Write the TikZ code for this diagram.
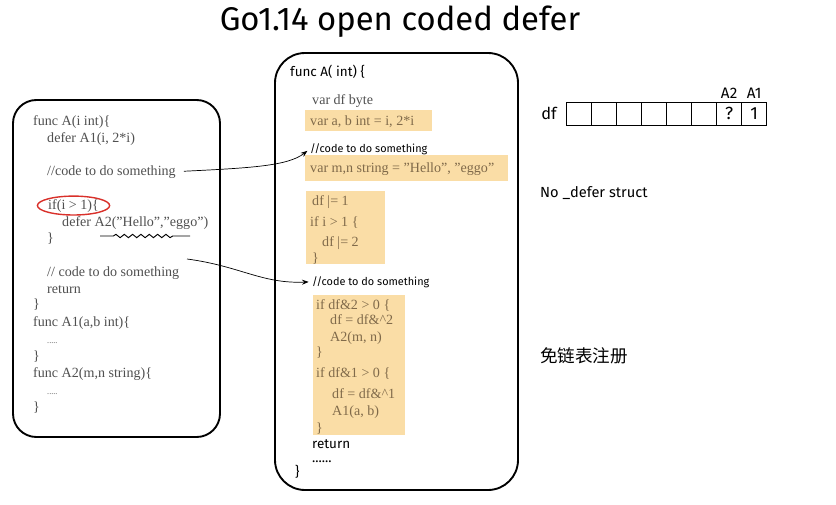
\documentclass[tikz,border=0pt]{standalone}
\usepackage{fontspec}
\setmainfont{Liberation Serif}
\newfontfamily\handfont{Fira Sans}
\newfontfamily\cjkfont{Noto Sans CJK SC}
\usetikzlibrary{arrows.meta,positioning,fit,shapes.geometric,decorations.pathmorphing}
\definecolor{codegray}{HTML}{505050}
\definecolor{hlfill}{HTML}{FADDA6}
\definecolor{hltext}{HTML}{806A4A}
\definecolor{ringred}{HTML}{D9302A}

\begin{document}
\begin{tikzpicture}[
  x=0.03cm, y=-0.03cm,
  >=Stealth,
  code/.style={anchor=base west,inner sep=0pt,text=codegray,font=\fontsize{12}{14}\selectfont},
  hlcode/.style={code,text=hltext},
  hand/.style={anchor=base west,inner sep=0pt,font=\handfont\fontsize{11.5}{13}\selectfont},
  note/.style={hand,font=\handfont\fontsize{9.3}{10}\selectfont},
  panel/.style={draw,line width=1.6pt,rounded corners=0.7cm},
  hl/.style={fill=hlfill},
  ring/.style={draw=ringred,ellipse,line width=1.2pt,inner sep=0pt},
  wavy/.style={line width=0.8pt,decorate,decoration={snake,amplitude=0.05cm,segment length=0.25cm,pre length=0.4cm,post length=0.5cm}},
  cell/.style={draw,line width=0.6pt,minimum width=0.753cm,minimum height=0.69cm,inner sep=0pt,font=\handfont\fontsize{15}{15}\selectfont},
  bitname/.style={hand,font=\handfont\fontsize{13}{13}\selectfont},
  link/.style={->,line width=0.6pt,shorten >=0.1cm}
]
\useasboundingbox[fill=white] (0,0) rectangle (836,505);
\node[font=\handfont\fontsize{28}{28}\selectfont] (title) at (400,22) {Go1.14 open coded defer};

% source
\draw[panel] (13,100) rectangle (220,437);
\node[code] (la1) at (33,125) {func A(i int)\{};
\node[code] (la2) at (47,142) {defer A1(i, 2*i)};
\node[code] (la3) at (47,175) {//code to do something};
\node[code] (la4) at (48,209) {if(i > 1)\{};
\node[code] (la5) at (62,226) {defer A2("Hello","eggo")};
\node[code] (la6) at (47,242) {\}};
\node[code] (la7) at (47,276) {// code to do something};
\node[code] (la8) at (47,293) {return};
\node[code] (la9) at (33,308) {\}};
\node[code] (la10) at (33,326) {func A1(a,b int)\{};
\node[code,font=\fontsize{7}{8}\selectfont] (la11) at (47,343) {.....};
\node[code] (la12) at (33,360) {\}};
\node[code] (la13) at (33,377) {func A2(m,n string)\{};
\node[code,font=\fontsize{7}{8}\selectfont] (la14) at (47,394) {.....};
\node[code] (la15) at (33,411) {\}};
\node[ring,fit=(la4)] (ifring) {};
\draw[wavy] (100,236) -- (190,236);

% compiled
\draw[panel,rounded corners=0.9cm] (275,53) rectangle (518,490);
\fill[hl] (305,110) rectangle (432,131);
\fill[hl] (305,155) rectangle (508,181);
\fill[hl] (306,191) rectangle (385,264);
\fill[hl] (313,295) rectangle (405,435);
\node[hand] (ma) at (290,76) {func A( int) \{};
\node[code] (mb) at (312,104) {var df byte};
\node[hlcode] (mc) at (310,125) {var a, b int = i, 2*i};
\node[note] (mcom1) at (310,152) {//code to do something};
\node[hlcode] (md) at (310,172) {var m,n string = "Hello", "eggo"};
\node[hlcode] (me1) at (312,205) {df |= 1};
\node[hlcode] (me2) at (310,226) {if i > 1 \{};
\node[hlcode] (me3) at (322,246) {df |= 2};
\node[hlcode] (me4) at (312,262) {\}};
\node[note] (mcom2) at (312,285) {//code to do something};
\node[hlcode] (mf1) at (316,309) {if df\&2 > 0 \{};
\node[hlcode] (mf2) at (330,324) {df = df\&\textasciicircum 2};
\node[hlcode] (mf3) at (330,341) {A2(m, n)};
\node[hlcode] (mf4) at (316,356) {\}};
\node[hlcode] (mf5) at (316,377) {if df\&1 > 0 \{};
\node[hlcode] (mf6) at (332,398) {df = df\&\textasciicircum 1};
\node[hlcode] (mf7) at (332,415) {A1(a, b)};
\node[hlcode] (mf8) at (316,432) {\}};
\node[hand] (mret) at (312,448) {return};
\node[hand] (mdots) at (312,462) {......};
\node[hand] (mend) at (295,476) {\}};

\coordinate (gap) at (187,259);
\draw[link,shorten <=0.24cm] (la3.east) .. controls (250,168) and (288,166) .. (mcom1.west);
\draw[link] (gap) .. controls (240,266) and (262,284) .. (mcom2.west);

% df bits
\node[bitname,anchor=center,font=\handfont\fontsize{14}{14}\selectfont] (dflabel) at (549,113) {df};
\foreach \i in {1,...,8} {
  \node[cell] (cell\i) at (553.45+25.1*\i,113.5) {};
}
\node[cell,draw=none] at (cell7.center) {?};
\node[cell,draw=none] at (cell8.center) {1};
\node[bitname,anchor=south,above=0.1cm of cell7] (a2) {A2};
\node[bitname,anchor=south,above=0.1cm of cell8] (a1) {A1};
\node[hand,font=\handfont\fontsize{12.5}{13}\selectfont] (nodefer) at (540,197) {No \_defer struct};
\node[anchor=base west,inner sep=0pt,font=\cjkfont\fontsize{15}{15}\selectfont] (freereg) at (540,362) {免链表注册};
\end{tikzpicture}
\end{document}
